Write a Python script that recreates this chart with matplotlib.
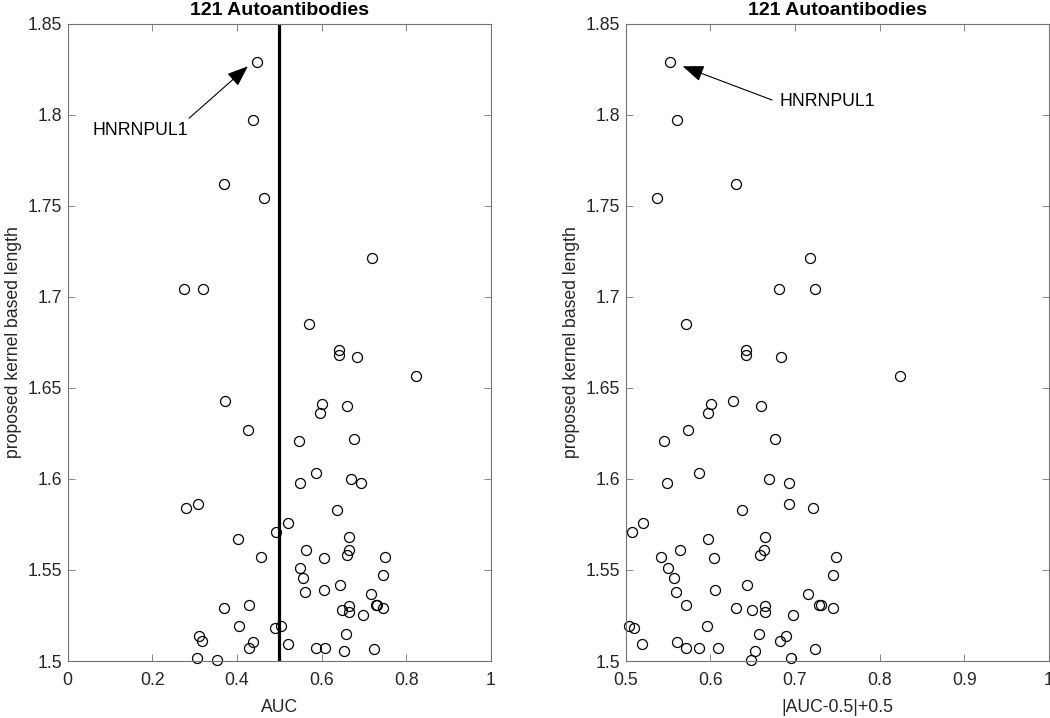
import numpy as np
import matplotlib
matplotlib.use('Agg')
import matplotlib.pyplot as plt

plt.rcParams['font.family'] = ['Liberation Sans', 'DejaVu Sans']

# AUC of each autoantibody and the proposed kernel based length (only y >= 1.5 visible)
auc = np.array([
    0.447, 0.439, 0.369, 0.463, 0.718, 0.276, 0.319, 0.571, 0.642, 0.642,
    0.684, 0.824, 0.373, 0.601, 0.597, 0.660, 0.426, 0.546, 0.677, 0.587,
    0.549, 0.669, 0.693, 0.279, 0.307, 0.637, 0.521, 0.492, 0.403, 0.665,
    0.564, 0.664, 0.659, 0.458, 0.605, 0.749, 0.550, 0.557, 0.745, 0.644,
    0.560, 0.606, 0.716, 0.729, 0.731, 0.745, 0.370, 0.428, 0.665, 0.649,
    0.665, 0.698, 0.404, 0.490, 0.504, 0.658, 0.310, 0.318, 0.439, 0.428,
    0.520, 0.587, 0.609, 0.653, 0.724, 0.305, 0.352])
length = np.array([
    1.829, 1.797, 1.762, 1.754, 1.721, 1.704, 1.704, 1.685, 1.671, 1.668,
    1.667, 1.6565, 1.643, 1.641, 1.636, 1.640, 1.627, 1.621, 1.622, 1.603,
    1.598, 1.600, 1.598, 1.584, 1.586, 1.583, 1.576, 1.571, 1.567, 1.568,
    1.561, 1.561, 1.558, 1.557, 1.5565, 1.557, 1.551, 1.5455, 1.547, 1.542,
    1.538, 1.539, 1.537, 1.531, 1.531, 1.529, 1.529, 1.531, 1.530, 1.528,
    1.527, 1.5255, 1.519, 1.518, 1.519, 1.515, 1.514, 1.511, 1.5105, 1.507,
    1.5095, 1.507, 1.507, 1.5055, 1.5065, 1.5015, 1.5003])

label_name = 'HNRNPUL1'
folded = np.abs(auc - 0.5) + 0.5

W, H = 1050, 718
fig = plt.figure(figsize=(W / 100, H / 100), dpi=100)
ax1 = fig.add_axes([67.5 / W, 57 / H, 423.5 / W, 637.5 / H])
ax2 = fig.add_axes([625.5 / W, 57 / H, 423.5 / W, 637.5 / H])

txt = '#262626'
for ax, xs, xlim, xticks, xlab in [
        (ax1, auc, (0, 1), [0, 0.2, 0.4, 0.6, 0.8, 1], 'AUC'),
        (ax2, folded, (0.5, 1), [0.5, 0.6, 0.7, 0.8, 0.9, 1], '|AUC-0.5|+0.5')]:
    ax.plot(xs, length, 'o', ms=7.2, mfc='none', mec='k', mew=0.9, clip_on=False)
    ax.set_xlim(xlim)
    ax.set_ylim(1.5, 1.85)
    ax.set_xticks(xticks)
    ax.set_xticklabels(['%g' % t for t in xticks])
    yt = [1.5, 1.55, 1.6, 1.65, 1.7, 1.75, 1.8, 1.85]
    ax.set_yticks(yt)
    ax.set_yticklabels(['%g' % t for t in yt])
    ax.tick_params(direction='in', top=True, right=True, length=5, width=0.6,
                   color='0.45', labelcolor=txt, labelsize=12.7)
    ax.tick_params(axis='x', pad=8)
    ax.tick_params(axis='y', pad=4)
    for s in ax.spines.values():
        s.set_color('0.45')
        s.set_linewidth(0.8)
    ax.set_xlabel(xlab, fontsize=12.7, color=txt, labelpad=7)
    ax.set_ylabel('proposed kernel based length', fontsize=12.7, color=txt, labelpad=4)
    ax.set_title('121 Autoantibodies', fontsize=14, fontweight='bold', pad=6)

ax1.axvline(0.5, color='k', lw=2.3)

arrow = dict(arrowstyle='-|>,head_length=0.65,head_width=0.25', color='k', lw=0.8,
             mutation_scale=20, shrinkA=0, shrinkB=0)
ax1.annotate('', xy=(0.426, 1.8265), xytext=(0.287, 1.798), arrowprops=arrow)
ax1.text(0.058, 1.791, label_name, fontsize=12.7, ha='left', va='center')
ax2.annotate('', xy=(0.5675, 1.8265), xytext=(0.673, 1.808), arrowprops=arrow)
ax2.text(0.682, 1.8074, label_name, fontsize=12.7, ha='left', va='center')

fig.savefig('out.png', dpi=100)
